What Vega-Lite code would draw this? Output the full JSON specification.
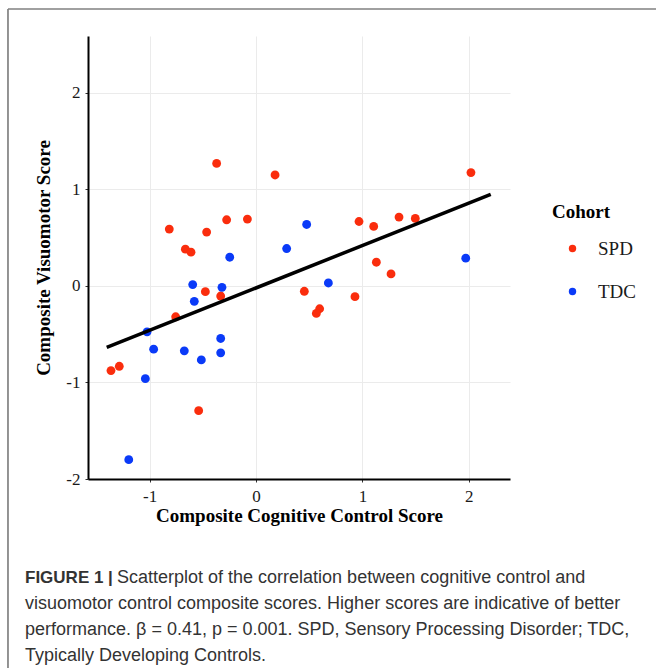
{
  "$schema": "https://vega.github.io/schema/vega-lite/v6.json",
  "autosize": {"type": "pad"},
  "padding": {"left": 7, "top": 8, "right": 0, "bottom": 0},
  "background": "white",
  "config": {"view": {"stroke": null}},
  "bounds": "flush",
  "spacing": 86,
  "vconcat": [
    {
      "width": 422,
      "height": 443,
      "layer": [
        {
          "data": {"values": [
            {"cohort": "SPD", "cc": -0.815, "vm": 0.589},
            {"cohort": "SPD", "cc": -0.370, "vm": 1.27},
            {"cohort": "SPD", "cc": 0.179, "vm": 1.15},
            {"cohort": "SPD", "cc": 2.02, "vm": 1.175},
            {"cohort": "SPD", "cc": -0.276, "vm": 0.686},
            {"cohort": "SPD", "cc": -0.081, "vm": 0.693},
            {"cohort": "SPD", "cc": -0.664, "vm": 0.381},
            {"cohort": "SPD", "cc": -0.611, "vm": 0.35},
            {"cohort": "SPD", "cc": -0.464, "vm": 0.558},
            {"cohort": "SPD", "cc": 0.968, "vm": 0.668},
            {"cohort": "SPD", "cc": 1.106, "vm": 0.617},
            {"cohort": "SPD", "cc": 1.344, "vm": 0.714},
            {"cohort": "SPD", "cc": 1.497, "vm": 0.70},
            {"cohort": "SPD", "cc": 1.131, "vm": 0.246},
            {"cohort": "SPD", "cc": 1.269, "vm": 0.125},
            {"cohort": "SPD", "cc": -0.476, "vm": -0.059},
            {"cohort": "SPD", "cc": -0.332, "vm": -0.104},
            {"cohort": "SPD", "cc": -0.755, "vm": -0.319},
            {"cohort": "SPD", "cc": 0.454, "vm": -0.055},
            {"cohort": "SPD", "cc": 0.598, "vm": -0.236},
            {"cohort": "SPD", "cc": 0.567, "vm": -0.284},
            {"cohort": "SPD", "cc": 0.930, "vm": -0.111},
            {"cohort": "SPD", "cc": -1.363, "vm": -0.877},
            {"cohort": "SPD", "cc": -1.285, "vm": -0.832},
            {"cohort": "SPD", "cc": -0.539, "vm": -1.292},
            {"cohort": "TDC", "cc": 0.476, "vm": 0.637},
            {"cohort": "TDC", "cc": 0.288, "vm": 0.388},
            {"cohort": "TDC", "cc": -0.247, "vm": 0.298},
            {"cohort": "TDC", "cc": 1.971, "vm": 0.288},
            {"cohort": "TDC", "cc": -0.595, "vm": 0.014},
            {"cohort": "TDC", "cc": -0.320, "vm": -0.014},
            {"cohort": "TDC", "cc": 0.680, "vm": 0.031},
            {"cohort": "TDC", "cc": -0.58, "vm": -0.159},
            {"cohort": "TDC", "cc": -1.024, "vm": -0.475},
            {"cohort": "TDC", "cc": -0.962, "vm": -0.655},
            {"cohort": "TDC", "cc": -0.674, "vm": -0.672},
            {"cohort": "TDC", "cc": -0.514, "vm": -0.766},
            {"cohort": "TDC", "cc": -0.332, "vm": -0.544},
            {"cohort": "TDC", "cc": -0.332, "vm": -0.693},
            {"cohort": "TDC", "cc": -1.04, "vm": -0.96},
            {"cohort": "TDC", "cc": -1.196, "vm": -1.80}
          ]},
          "mark": {"type": "point", "filled": true, "size": 78, "opacity": 1},
          "encoding": {
            "x": {
              "field": "cc", "type": "quantitative",
              "scale": {"domain": [-1.579, 2.387], "nice": false, "zero": false},
              "axis": {
                "title": "Composite Cognitive Control Score",
                "values": [-1, 0, 1, 2],
                "labelExpr": "'' + datum.value",
                "grid": true, "gridColor": "#ebebeb", "gridWidth": 1,
                "domainColor": "black", "domainWidth": 2,
                "tickColor": "#333333", "tickSize": 3, "tickWidth": 1,
                "labelFont": "Liberation Serif", "labelFontSize": 17, "labelColor": "#1a1a1a", "labelPadding": 6,
                "titleFont": "Liberation Serif", "titleFontSize": 19, "titleFontWeight": "bold", "titleColor": "black", "titlePadding": 2
              }
            },
            "y": {
              "field": "vm", "type": "quantitative",
              "scale": {"domain": [-2, 2.59], "nice": false, "zero": false},
              "axis": {
                "title": "Composite Visuomotor Score",
                "values": [-2, -1, 0, 1, 2],
                "labelExpr": "'' + datum.value",
                "grid": true, "gridColor": "#ebebeb", "gridWidth": 1,
                "domainColor": "black", "domainWidth": 2,
                "tickColor": "#333333", "tickSize": 3, "tickWidth": 1,
                "labelFont": "Liberation Serif", "labelFontSize": 17, "labelColor": "#1a1a1a", "labelPadding": 5,
                "titleFont": "Liberation Serif", "titleFontSize": 19, "titleFontWeight": "bold", "titleColor": "black", "titlePadding": 12
              }
            },
            "color": {
              "field": "cohort", "type": "nominal",
              "scale": {"domain": ["SPD", "TDC"], "range": ["#fa2d0d", "#0a3af8"]},
              "legend": {
                "title": "Cohort", "orient": "none", "legendX": 464, "legendY": 167, "padding": 0,
                "titleFont": "Liberation Serif", "titleFontSize": 19, "titleFontWeight": "bold", "titleColor": "black", "titlePadding": 17,
                "labelFont": "Liberation Serif", "labelFontSize": 19, "labelColor": "#1a1a1a",
                "symbolType": "circle", "symbolSize": 55, "symbolStrokeWidth": 0, "symbolOffset": 11, "labelOffset": 16, "rowPadding": 23
              }
            }
          }
        },
        {
          "data": {"values": [
            {"cc": -1.403, "vm": -0.637},
            {"cc": 2.206, "vm": 0.949}
          ]},
          "mark": {"type": "line", "color": "black", "strokeWidth": 3.5},
          "encoding": {
            "x": {"field": "cc", "type": "quantitative"},
            "y": {"field": "vm", "type": "quantitative"}
          }
        },
        {
          "data": {"values": [{}]},
          "mark": {"type": "rule", "color": "#707070", "strokeWidth": 1.5},
          "encoding": {
            "x": {"datum": -2.331, "type": "quantitative"},
            "y": {"datum": 2.87, "type": "quantitative"},
            "y2": {"datum": -4.1}
          }
        },
        {
          "data": {"values": [{}]},
          "mark": {"type": "rule", "color": "#808080", "strokeWidth": 1.5},
          "encoding": {
            "x": {"datum": -2.331, "type": "quantitative"},
            "x2": {"datum": 3.85},
            "y": {"datum": 2.87, "type": "quantitative"}
          }
        }
      ]
    },
    {
      "width": 422,
      "height": 104,
      "data": {"values": [
        {"line": 1, "part": "head", "text": "FIGURE 1 |"},
        {"line": 1, "part": "first", "text": "Scatterplot of the correlation between cognitive control and"},
        {"line": 2, "part": "body", "text": "visuomotor control composite scores. Higher scores are indicative of better"},
        {"line": 3, "part": "body", "text": "performance. β = 0.41, p = 0.001. SPD, Sensory Processing Disorder; TDC,"},
        {"line": 4, "part": "body", "text": "Typically Developing Controls."}
      ]},
      "encoding": {
        "x": {"datum": 0, "type": "quantitative", "scale": {"domain": [0, 1]}, "axis": null},
        "y": {"field": "line", "type": "ordinal", "axis": null},
        "text": {"field": "text"}
      },
      "layer": [
        {
          "transform": [{"filter": "datum.part === 'head'"}],
          "mark": {"type": "text", "align": "left", "baseline": "middle", "dx": -63, "font": "Liberation Sans", "fontSize": 17, "fontWeight": "bold", "color": "#333333"}
        },
        {
          "transform": [{"filter": "datum.part === 'first'"}],
          "mark": {"type": "text", "align": "left", "baseline": "middle", "dx": 29, "font": "Liberation Sans", "fontSize": 18, "color": "#333333"}
        },
        {
          "transform": [{"filter": "datum.part === 'body'"}],
          "mark": {"type": "text", "align": "left", "baseline": "middle", "dx": -63, "font": "Liberation Sans", "fontSize": 18, "color": "#333333"}
        }
      ]
    }
  ]
}
